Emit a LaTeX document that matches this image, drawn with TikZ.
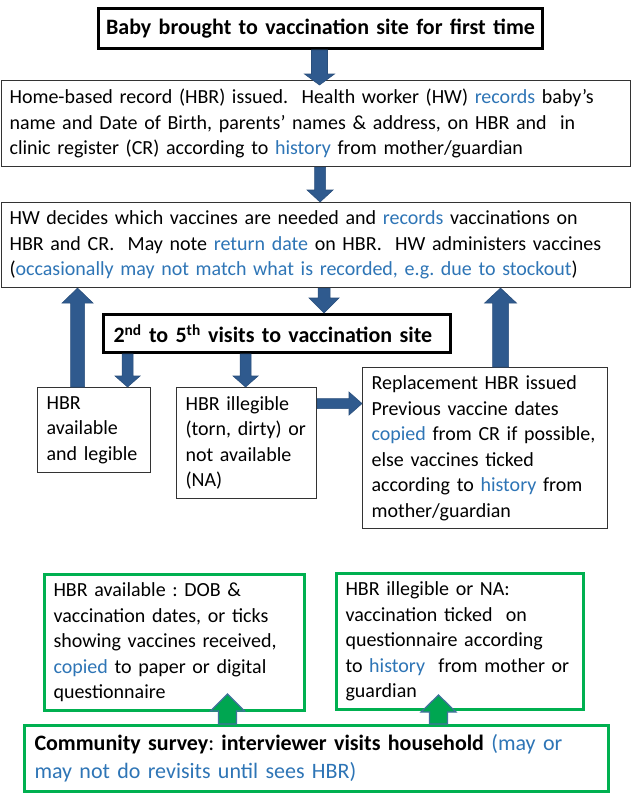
\documentclass[tikz,border=0pt]{standalone}
\usepackage{fontspec}
\setmainfont{Carlito}
\usetikzlibrary{calc}
\frenchspacing
\definecolor{bl}{HTML}{2E75B6}
\definecolor{arrfill}{HTML}{2F5A8E}
\definecolor{arrline}{HTML}{2A4F7C}
\definecolor{grn}{HTML}{00B050}
\definecolor{garr}{HTML}{00A651}
\definecolor{garrline}{HTML}{41719C}
\newcommand\bt[1]{\textcolor{bl}{#1}}
\tikzset{
  box/.style={draw=black!80, line width=1.1pt, fill=white, anchor=north west,
    inner xsep=0pt, inner ysep=0pt, align=left, font=\fontsize{20}{25.5}\selectfont},
  boldbox/.style={box, draw=black, line width=3pt, font=\fontsize{22}{26}\selectfont\bfseries},
  gbox/.style={box, draw=grn, line width=3pt},
  barrow/.style={fill=arrfill, draw=arrline, line width=0.6pt},
  garrow/.style={fill=garr, draw=garrline, line width=1.2pt},
}
% vertical arrow pointing down: from, to, half shaft, half head, head length
\newcommand\downarr[6][barrow]{%
  \filldraw[#1] ($(#2)+(-#4,0)$) -- ($(#3)+(-#4,-#6)$) -- ($(#3)+(-#5,-#6)$) -- (#3)
    -- ($(#3)+(#5,-#6)$) -- ($(#3)+(#4,-#6)$) -- ($(#2)+(#4,0)$) -- cycle;}
\newcommand\uparr[6][barrow]{%
  \filldraw[#1] ($(#2)+(-#4,0)$) -- ($(#3)+(-#4,#6)$) -- ($(#3)+(-#5,#6)$) -- (#3)
    -- ($(#3)+(#5,#6)$) -- ($(#3)+(#4,#6)$) -- ($(#2)+(#4,0)$) -- cycle;}
\newcommand\rightarr[6][barrow]{%
  \filldraw[#1] ($(#2)+(0,-#4)$) -- ($(#3)+(-#6,-#4)$) -- ($(#3)+(-#6,-#5)$) -- (#3)
    -- ($(#3)+(-#6,#5)$) -- ($(#3)+(-#6,#4)$) -- ($(#2)+(0,#4)$) -- cycle;}
\begin{document}
\begin{tikzpicture}[x=1pt,y=-1pt]
\useasboundingbox (0,0) rectangle (631,800);
\fill[white] (0,0) rectangle (631,800);

\node[boldbox, align=center, minimum width=444pt, minimum height=40pt, text width=444pt] (top) at (97,7)
  {Baby brought to vaccination site for first time};

\node[box, minimum width=629.6pt, minimum height=86pt, text width=613pt] (b2) at (0.7,80)
  {Home-based record (HBR) issued.~ Health worker (HW) \bt{records} baby’s\\
   name and Date of Birth, parents’ names \& address, on HBR and~ in\\
   clinic register (CR) according to \bt{history} from mother/guardian};

\node[box, minimum width=629.6pt, minimum height=85pt, text width=613pt] (b3) at (0.7,202)
  {HW decides which vaccines are needed and \bt{records} vaccinations on\\
   HBR and CR.~ May note \bt{return date} on HBR.~ HW administers vaccines\\
   (\bt{occasionally may not match what is recorded, e.g. due to stockout})};

\node[boldbox, minimum width=347pt, minimum height=38pt, text width=327pt] (visits) at (102,313)
  {2\textsuperscript{nd} to 5\textsuperscript{th} visits to vaccination site};

\node[box, minimum width=113pt, minimum height=85pt, text width=95pt] (avail) at (37,387)
  {HBR\\ available\\ and legible};

\node[box, minimum width=140pt, minimum height=111pt, text width=122pt] (illeg) at (176,387)
  {HBR illegible\\ (torn, dirty) or\\ not available\\ (NA)};

\node[box, minimum width=245pt, minimum height=161pt, text width=227pt] (repl) at (362,367)
  {Replacement HBR issued\\ Previous vaccine dates\\ \bt{copied} from CR if possible,\\
   else vaccines ticked\\ according to \bt{history} from\\ mother/guardian};

\node[gbox, minimum width=260pt, minimum height=136pt, text width=242pt] (g1) at (43,573)
  {HBR available : DOB \&\\ vaccination dates, or ticks\\ showing vaccines received,\\
   \bt{copied} to paper or digital\\ questionnaire};

\node[gbox, minimum width=247pt, minimum height=136pt, text width=229pt] (g2) at (335,572)
  {HBR illegible or NA:\\ vaccination ticked~ on\\ questionnaire according\\
   to \bt{history}~ from mother or\\ guardian};

\node[gbox, minimum width=584pt, minimum height=66pt, text width=564pt,
      font=\fontsize{22}{28}\selectfont] (survey) at (23,724)
  {\textbf{Community survey}: \textbf{interviewer visits household} \bt{(may or\\
   may not do revisits until sees HBR)}};

% connectors
\coordinate (a1s) at ($(top.south)+(-1,0)$);
\coordinate (a1e) at ($(a1s |- b2.north)+(0,5)$);
\downarr{a1s}{a1e}{8}{15}{11}

\coordinate (a2s) at ($(b2.south)+(4,0)$);
\coordinate (a2e) at (a2s |- b3.north);
\downarr{a2s}{a2e}{5.5}{13}{12}

\coordinate (a3s) at ($(b3.south)+(8,0)$);
\coordinate (a3e) at (a3s |- visits.north);
\downarr{a3s}{a3e}{6}{15}{15}

\coordinate (a4s) at ($(avail.north)+(-16.5,0)$);
\coordinate (a4e) at (a4s |- b3.south);
\uparr{a4s}{a4e}{7}{15.5}{15}

\coordinate (a5e) at ($(avail.north)+(33.5,0)$);
\coordinate (a5s) at (a5e |- visits.south);
\downarr{a5s}{a5e}{5.5}{12.5}{11}

\coordinate (a6e) at ($(illeg.north)+(-1,0)$);
\coordinate (a6s) at (a6e |- visits.south);
\downarr{a6s}{a6e}{5.5}{12.5}{11}

\coordinate (a7s) at ($(illeg.east)+(0,-39.5)$);
\coordinate (a7e) at (a7s -| repl.west);
\rightarr{a7s}{a7e}{5}{11.5}{13}

\coordinate (a8s) at ($(repl.north)+(15.5,0)$);
\coordinate (a8e) at (a8s |- b3.south);
\uparr{a8s}{a8e}{8}{16}{15}

\coordinate (g1s) at ($(survey.north -| g1.south)+(53,0)$);
\coordinate (g1e) at ($(g1s |- g1.south)+(0,-18)$);
\uparr[garrow]{g1s}{g1e}{9}{17}{17}

\coordinate (g2s) at ($(survey.north -| g2.south)+(-21.5,0)$);
\coordinate (g2e) at ($(g2s |- g2.south)+(0,-16)$);
\uparr[garrow]{g2s}{g2e}{9}{17.5}{17}
\end{tikzpicture}
\end{document}
